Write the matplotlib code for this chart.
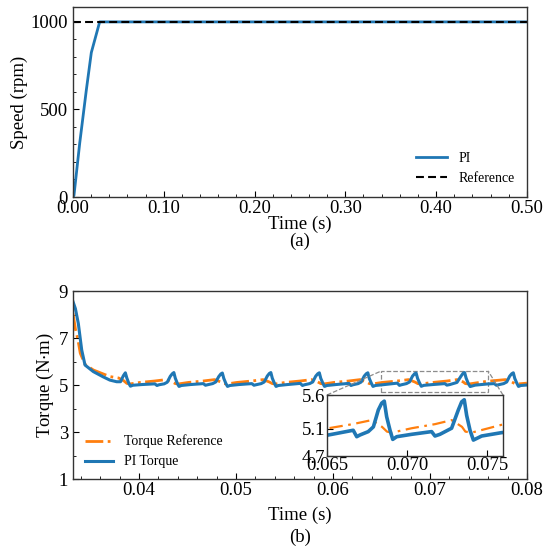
import matplotlib
matplotlib.use("Agg")
import matplotlib.pyplot as plt
from matplotlib.ticker import AutoMinorLocator, FormatStrFormatter
from mpl_toolkits.axes_grid1.inset_locator import mark_inset

plt.rcParams['font.family'] = ['Liberation Serif', 'DejaVu Serif']
plt.rcParams['font.size'] = 13.5
plt.rcParams['mathtext.fontset'] = 'stix'

BLUE = "#1f77b4"
ORANGE = "#ff7f0e"

# (a) speed
speed_t = [0.0, 0.0011, 0.0074, 0.0147, 0.0202, 0.0294, 0.5]
speed_pi = [0, 10, 307, 611, 825, 1000, 1000]
ref_t = [0.0, 0.5]
ref_speed = [1000, 1000]

# (b) torque, PI
torque_t = [
    0.03320, 0.03345, 0.03375, 0.03410, 0.03444, 0.03530, 0.03630, 0.03700,
    0.03770, 0.03810, 0.03840, 0.03860, 0.03875, 0.03895, 0.03912, 0.03937,
    0.04030,
    0.04164, 0.04186, 0.04206, 0.04260, 0.04292, 0.04323, 0.04344, 0.04360,
    0.04375, 0.04396, 0.04413, 0.04438, 0.04531,
    0.04664, 0.04686, 0.04706, 0.04760, 0.04792, 0.04823, 0.04844, 0.04860,
    0.04875, 0.04896, 0.04913, 0.04938, 0.05031,
    0.05164, 0.05186, 0.05206, 0.05260, 0.05292, 0.05323, 0.05344, 0.05360,
    0.05375, 0.05396, 0.05413, 0.05438, 0.05531,
    0.05664, 0.05686, 0.05706, 0.05760, 0.05792, 0.05823, 0.05844, 0.05860,
    0.05875, 0.05896, 0.05913, 0.05938, 0.06031,
    0.06164, 0.06186, 0.06206, 0.06260, 0.06292, 0.06323, 0.06344, 0.06360,
    0.06375, 0.06396, 0.06413, 0.06438, 0.06531,
    0.06664, 0.06686, 0.06706, 0.06758, 0.06790, 0.06821, 0.06842, 0.06858,
    0.06873, 0.06894, 0.06911, 0.06936, 0.07029,
    0.07154, 0.07175, 0.07206, 0.07279, 0.07321, 0.07342, 0.07358,
    0.07373, 0.07394, 0.07415, 0.07467, 0.07592,
    0.07664, 0.07686, 0.07706, 0.07760, 0.07792, 0.07823, 0.07844, 0.07860,
    0.07875, 0.07896, 0.07913, 0.07938, 0.08000,
]
torque_pi = [
    8.55, 8.25, 7.62, 6.49, 5.85, 5.57, 5.35, 5.21,
    5.14, 5.14, 5.40, 5.52, 5.30, 5.08, 4.95, 4.99,
    5.02,
    5.05, 4.98, 5.01, 5.05, 5.12, 5.37, 5.48, 5.53,
    5.29, 5.07, 4.94, 4.98, 5.02,
    5.06, 4.99, 5.01, 5.06, 5.13, 5.36, 5.47, 5.51,
    5.28, 5.07, 4.94, 4.98, 5.02,
    5.06, 4.99, 5.01, 5.06, 5.13, 5.38, 5.49, 5.53,
    5.29, 5.08, 4.94, 4.98, 5.02,
    5.07, 4.98, 5.01, 5.06, 5.13, 5.38, 5.48, 5.52,
    5.28, 5.08, 4.94, 4.98, 5.02,
    5.07, 4.98, 5.01, 5.06, 5.13, 5.38, 5.48, 5.52,
    5.28, 5.08, 4.94, 4.98, 5.02,
    5.08, 4.985, 5.01, 5.06, 5.13, 5.38, 5.48, 5.51,
    5.28, 5.08, 4.945, 4.985, 5.02,
    5.06, 4.995, 5.02, 5.11, 5.38, 5.50, 5.53,
    5.30, 5.08, 4.935, 4.995, 5.045,
    5.06, 4.99, 5.01, 5.06, 5.13, 5.38, 5.48, 5.52,
    5.28, 5.08, 4.94, 4.98, 5.00,
]

# (b) torque reference
tref_t = [
    0.03320, 0.03347, 0.03370, 0.03395, 0.03444, 0.03530, 0.03700,
    0.03790, 0.03844, 0.03875, 0.03906, 0.04010, 0.04160,
    0.04280, 0.04344, 0.04375, 0.04406, 0.04510, 0.04660,
    0.04780, 0.04844, 0.04875, 0.04906, 0.05010, 0.05160,
    0.05280, 0.05344, 0.05375, 0.05406, 0.05510, 0.05660,
    0.05780, 0.05844, 0.05875, 0.05906, 0.06010, 0.06160,
    0.06280, 0.06344, 0.06375, 0.06406, 0.06510, 0.06660,
    0.06780, 0.06844, 0.06875, 0.06906, 0.07030, 0.07175,
    0.07280, 0.07344, 0.07365, 0.07404, 0.07510, 0.07590,
    0.07780, 0.07844, 0.07875, 0.07906, 0.08000,
]
tref_val = [
    8.05, 7.34, 6.95, 6.35, 5.88, 5.64, 5.36,
    5.30, 5.18, 5.07, 5.045, 5.11, 5.17,
    5.23, 5.13, 5.06, 5.045, 5.11, 5.17,
    5.23, 5.13, 5.06, 5.045, 5.11, 5.17,
    5.23, 5.13, 5.06, 5.045, 5.11, 5.17,
    5.23, 5.13, 5.06, 5.045, 5.11, 5.17,
    5.23, 5.13, 5.06, 5.045, 5.11, 5.17,
    5.23, 5.13, 5.06, 5.045, 5.11, 5.17,
    5.23, 5.13, 5.06, 5.045, 5.11, 5.16,
    5.23, 5.13, 5.06, 5.045, 5.08,
]

fig = plt.figure(figsize=(5.5, 5.52), dpi=100)

def style_axes(ax, nx=5, ny=2):
    ax.tick_params(direction='in', which='both')
    ax.tick_params(which='major', length=4)
    ax.tick_params(which='minor', length=2)
    ax.tick_params(axis='x', pad=2)
    ax.xaxis.set_minor_locator(AutoMinorLocator(nx))
    ax.yaxis.set_minor_locator(AutoMinorLocator(ny))
    for s in ax.spines.values():
        s.set_linewidth(1.0)
        s.set_color('#333333')

# (a)
ax1 = fig.add_axes([0.1327, 0.6431, 0.8253, 0.3442])
ax1.plot(speed_t, speed_pi, color=BLUE, lw=2, label='PI')
ax1.plot(ref_t, ref_speed, color='black', lw=1.5, ls='--', dashes=(3.8, 2), label='Reference')
ax1.set_xlim(0, 0.5)
ax1.set_ylim(0, 1085)
ax1.set_xticks([0.0, 0.1, 0.2, 0.3, 0.4, 0.5])
ax1.set_yticks([0, 500, 1000])
ax1.xaxis.set_major_formatter(FormatStrFormatter('%.2f'))
ax1.set_xlabel('Time (s)', labelpad=-1)
ax1.set_ylabel('Speed (rpm)', labelpad=2)
style_axes(ax1, 5, 5)
ax1.legend(loc='lower right', frameon=False, fontsize=10, handlelength=2.2,
           bbox_to_anchor=(1.0, 0.0))
fig.text(0.545, 0.562, '(a)', ha='center', va='center')

# (b)
ax2 = fig.add_axes([0.1327, 0.1322, 0.8253, 0.3406])
ax2.plot(tref_t, tref_val, color=ORANGE, lw=2, ls='-.', label='Torque Reference')
ax2.plot(torque_t, torque_pi, color=BLUE, lw=2.2, label='PI Torque')
ax2.set_xlim(0.0332, 0.08)
ax2.set_ylim(1, 9)
ax2.set_xticks([0.04, 0.05, 0.06, 0.07, 0.08])
ax2.set_yticks([1, 3, 5, 7, 9])
ax2.xaxis.set_major_formatter(FormatStrFormatter('%.2f'))
ax2.set_xlabel('Time (s)', labelpad=6)
ax2.set_ylabel('Torque (N$\\cdot$m)', labelpad=2)
style_axes(ax2, 5, 2)
ax2.legend(loc='lower left', frameon=False, fontsize=10, handlelength=2.0,
           bbox_to_anchor=(0.0, -0.01))
fig.text(0.545, 0.027, '(b)', ha='center', va='center')

# inset
axin = fig.add_axes([0.5945, 0.1739, 0.32, 0.1105])
axin.plot(tref_t, tref_val, color=ORANGE, lw=1.6, ls='-.', dashes=(6, 2.5, 1.2, 2.5))
axin.plot(torque_t, torque_pi, color=BLUE, lw=2.6)
axin.set_xlim(0.065, 0.076)
axin.set_ylim(4.7, 5.6)
axin.set_xticks([0.065, 0.070, 0.075])
axin.set_yticks([4.7, 5.1, 5.6])
axin.xaxis.set_major_formatter(FormatStrFormatter('%.3f'))
axin.tick_params(direction='in', length=4, pad=1)
for s in axin.spines.values():
    s.set_linewidth(1.0)
    s.set_color('#333333')
mark_inset(ax2, axin, loc1=2, loc2=1, fc='none', ec='0.55', ls='--', lw=0.9)

fig.savefig('out.png', dpi=100)
